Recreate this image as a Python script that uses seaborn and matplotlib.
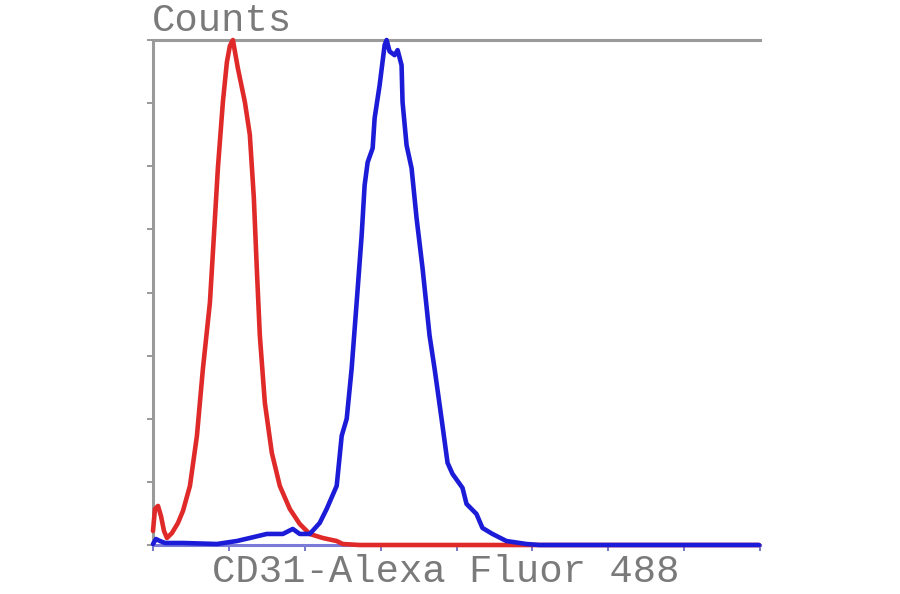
import numpy as np
import pandas as pd
import matplotlib
matplotlib.use("Agg")
import matplotlib.pyplot as plt
import seaborn as sns

# Fluorescence channel (axis units 0..8) and counts (0..8 scale)
red_x = [0.0, 0.026, 0.066, 0.105, 0.145, 0.184, 0.25, 0.329, 0.395, 0.487, 0.579, 0.658,
         0.75, 0.803, 0.855, 0.921, 0.974, 1.013, 1.053, 1.118, 1.211, 1.276, 1.329, 1.368,
         1.408, 1.474, 1.566, 1.671, 1.803, 1.934, 2.066, 2.237, 2.421, 2.5, 2.724, 7.987]
red_y = [0.222, 0.571, 0.619, 0.46, 0.222, 0.111, 0.19, 0.349, 0.54, 0.937, 1.73, 2.794,
         3.841, 4.905, 5.968, 7.016, 7.651, 7.905, 8.0, 7.556, 7.016, 6.5, 5.5, 4.381,
         3.317, 2.254, 1.46, 0.937, 0.571, 0.333, 0.175, 0.111, 0.063, 0.016, 0.0, 0.0]

blue_x = [0.0, 0.039, 0.092, 0.158, 0.395, 0.842, 1.105, 1.276, 1.5, 1.711, 1.842, 1.934,
          2.066, 2.197, 2.289, 2.421, 2.487, 2.553, 2.618, 2.684, 2.75, 2.789, 2.829, 2.895,
          2.921, 2.987, 3.053, 3.079, 3.118, 3.184, 3.224, 3.276, 3.289, 3.342, 3.408, 3.474,
          3.553, 3.645, 3.711, 3.803, 3.882, 3.947, 4.079, 4.132, 4.263, 4.342, 4.474, 4.658,
          4.921, 5.092, 7.987]
blue_y = [0.016, 0.095, 0.063, 0.032, 0.032, 0.016, 0.063, 0.111, 0.175, 0.175, 0.254, 0.175,
          0.175, 0.349, 0.571, 0.937, 1.73, 2.0, 2.794, 3.841, 4.905, 5.698, 6.063, 6.286,
          6.762, 7.286, 7.921, 8.0, 7.82, 7.76, 7.84, 7.6, 7.016, 6.333, 5.968, 5.175,
          4.381, 3.317, 2.794, 2.0, 1.302, 1.127, 0.905, 0.651, 0.492, 0.27, 0.175, 0.063,
          0.016, 0.0, 0.0]

tick_pos = [0, 1, 2, 3, 4, 5, 6, 7, 8]
x_label = "CD31-Alexa Fluor 488"
y_label = "Counts"

sns.set_style("white")
plt.rcParams['font.family'] = ['Liberation Mono', 'DejaVu Sans']

fig = plt.figure(figsize=(9, 5.94), dpi=100)
ax = fig.add_axes([153/900, 1 - 545/594, (760 - 153)/900, (545 - 40)/594])

red_df = pd.DataFrame({"x": red_x, "y": red_y})
blue_df = pd.DataFrame({"x": blue_x, "y": blue_y})
sns.lineplot(data=red_df, x="x", y="y", ax=ax, color="#e02a2a", lw=3.3,
             sort=False, estimator=None, clip_on=False, zorder=3,
             solid_joinstyle='round')
sns.lineplot(data=blue_df, x="x", y="y", ax=ax, color="#1c1cd8", lw=3.3,
             sort=False, estimator=None, clip_on=False, zorder=4,
             solid_joinstyle='round')

ax.set_xlim(0, 8)
ax.set_ylim(0, 8)
ax.set_xticks(tick_pos)
ax.set_yticks(tick_pos)
ax.set_xticklabels([])
ax.set_yticklabels([])
ax.tick_params(axis='x', direction='out', length=4, width=1.2, color='#6060c0', bottom=True)
ax.tick_params(axis='y', direction='out', length=4, width=1.2, color='#888888', left=True)

for s in ['top', 'left', 'bottom']:
    ax.spines[s].set_visible(True)
    ax.spines[s].set_color('#9a9a9a')
    ax.spines[s].set_linewidth(2.2)
ax.spines['bottom'].set_color('#7a7ad8')
ax.spines['right'].set_visible(False)

ax.set_xlabel("")
ax.set_ylabel("")
fig.text(212/900, 1 - 572/594, x_label, fontsize=28, color='#7a7a7a',
         ha='left', va='center')
fig.text(152/900, 1 - 21/594, y_label, fontsize=28, color='#7a7a7a',
         ha='left', va='center')

fig.savefig("out.png", dpi=100)
